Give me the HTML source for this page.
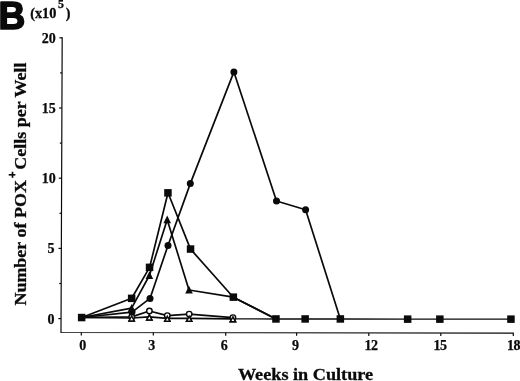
<!DOCTYPE html>
<html><head><meta charset="utf-8"><title>B</title>
<style>
html,body{margin:0;padding:0;background:#fff;}
body{width:520px;height:381px;overflow:hidden;position:relative;}
svg{position:absolute;left:0;top:0;display:block;}
text{font-kerning:normal;}
</style></head><body>
<svg width="520" height="381" viewBox="0 0 520 381">
<rect width="520" height="381" fill="#fff"/>
<text transform="translate(-1.6,29.05) scale(0.94,1)" font-family="'Liberation Sans', sans-serif" font-weight="bold" font-size="39.4" fill="#0a0a0a" stroke="#0a0a0a" stroke-width="1.7" stroke-linejoin="round">B</text>
<g font-family="'Liberation Serif', serif" font-weight="bold" fill="#0a0a0a" stroke="#0a0a0a" stroke-width="0.3">
<text x="30.2" y="18" font-size="14.3">(x10</text>
<text x="58.1" y="8.3" font-size="11.8">5</text>
<text x="65.8" y="17.8" font-size="14">)</text>
<text transform="translate(305.5,379.8) scale(1.012,0.95)" font-size="18" text-anchor="middle" id="xl">Weeks in Culture</text>
<text transform="translate(26.4,305.6) rotate(-90) scale(1,0.955)" font-size="18" id="yl">Number of POX</text>
<text transform="translate(15.5,178.1) rotate(-90)" font-size="11.5" stroke="#0a0a0a" stroke-width="0.8">+</text>
<text transform="translate(26.4,169.7) rotate(-90) scale(1,0.955)" font-size="18">Cells per Well</text>
</g>
<g stroke="#0a0a0a" stroke-width="1.2" fill="none" stroke-linecap="butt">
<path d="M62.2,37.3 L61,332.5 L513.8,333.1" stroke-linejoin="miter"/>
<path d="M58.3,318.6 H61.1"/>
<path d="M59.2,283.5 H61.2"/>
<path d="M58.5,248.4 H61.3"/>
<path d="M59.5,213.3 H61.5"/>
<path d="M58.8,178.2 H61.6"/>
<path d="M59.8,143.1 H61.8"/>
<path d="M59.1,108.0 H61.9"/>
<path d="M60.1,72.9 H62.1"/>
<path d="M59.4,37.8 H62.2"/>
<path d="M81.3,332.5 v3"/>
<path d="M153.3,332.6 v3"/>
<path d="M225.7,332.7 v3"/>
<path d="M296.6,332.8 v3"/>
<path d="M368.8,332.9 v3"/>
<path d="M440.8,333.0 v3"/>
<path d="M513.3,333.1 v3"/>
</g>
<g font-family="'Liberation Serif', serif" font-weight="bold" font-size="14" fill="#0a0a0a" stroke="#0a0a0a" stroke-width="0.25">
<text x="54.6" y="323.6" text-anchor="end">0</text>
<text x="54.6" y="253.4" text-anchor="end">5</text>
<text x="55.8" y="183.2" text-anchor="end">10</text>
<text x="55.8" y="113.0" text-anchor="end">15</text>
<text x="55.8" y="42.8" text-anchor="end">20</text>
<text x="82.8" y="349.9" text-anchor="middle">0</text>
<text x="151.8" y="349.9" text-anchor="middle">3</text>
<text x="224.2" y="349.9" text-anchor="middle">6</text>
<text x="295.5" y="349.8" text-anchor="middle">9</text>
<text x="370.9" y="350.0" text-anchor="middle" letter-spacing="-0.5">12</text>
<text x="440.1" y="350.0" text-anchor="middle" letter-spacing="-0.5">15</text>
<text x="513.4" y="349.9" text-anchor="middle" letter-spacing="-0.5">18</text>
</g>
<g fill="none" stroke="#0a0a0a" stroke-width="1.7" stroke-linejoin="round">
<polyline points="81.7,317.5 131.7,318.0 149.3,316.9 167.3,318.3 189.2,318.3 232.9,318.8"/>
<polyline points="81.7,317.5 131.7,316.9 149.4,311.0 167.3,315.6 189.2,314.1 232.9,317.6"/>
<polyline points="81.7,317.5 131.6,308.2 149.4,275.5 167.2,219.7 189.0,290.0 233.3,297.2 276.0,319.0"/>
<polyline points="81.7,317.5 132.0,312.1 150.0,298.4 168.0,245.4 190.3,183.6 233.9,71.9 276.5,201.0 305.6,209.7 340.3,319.0"/>
<polyline points="81.7,317.5 131.7,298.3 149.6,267.4 168.0,192.8 190.5,249.1 233.3,297.2 276.0,319.0"/>
</g>
<g fill="none" stroke="#0a0a0a" stroke-width="1.3"><polyline points="232.9,318.8 276.0,319.0"/><polyline points="276.0,319.0 305.2,319.0 340.3,319.0 407.6,319.1 439.9,319.1 511.0,319.1"/></g>
<g stroke="#0a0a0a" stroke-width="1.45" stroke-linejoin="miter">
<polygon points="131.7,316.0 129.0,321.0 134.3,321.0" fill="#fff"/>
<polygon points="149.3,314.9 146.7,319.9 152.0,319.9" fill="#fff"/>
<polygon points="167.3,316.3 164.7,321.3 170.0,321.3" fill="#fff"/>
<polygon points="189.2,316.3 186.5,321.3 191.8,321.3" fill="#fff"/>
<polygon points="232.9,316.8 230.2,321.8 235.6,321.8" fill="#fff"/>
<circle cx="131.7" cy="316.9" r="2.75" fill="#fff"/>
<circle cx="149.4" cy="311.0" r="2.75" fill="#fff"/>
<circle cx="167.3" cy="315.6" r="2.75" fill="#fff"/>
<circle cx="189.2" cy="314.1" r="2.75" fill="#fff"/>
<circle cx="232.9" cy="317.6" r="2.75" fill="#fff"/>
<polygon points="131.7,316.0 129.0,321.0 134.3,321.0" fill="#fff"/>
<polygon points="149.3,314.9 146.7,319.9 152.0,319.9" fill="#fff"/>
<polygon points="167.3,316.3 164.7,321.3 170.0,321.3" fill="#fff"/>
<polygon points="189.2,316.3 186.5,321.3 191.8,321.3" fill="#fff"/>
<polygon points="232.9,316.8 230.2,321.8 235.6,321.8" fill="#fff"/>
</g><g fill="#0a0a0a" stroke="none">
<polygon points="131.6,303.9 127.8,311.7 135.4,311.7" fill="#0a0a0a"/>
<polygon points="149.4,271.2 145.6,279.0 153.2,279.0" fill="#0a0a0a"/>
<polygon points="167.2,215.4 163.4,223.2 171.0,223.2" fill="#0a0a0a"/>
<polygon points="189.0,285.7 185.2,293.5 192.8,293.5" fill="#0a0a0a"/>
<circle cx="132.0" cy="312.1" r="3.5"/>
<circle cx="150.0" cy="298.4" r="3.5"/>
<circle cx="168.0" cy="245.4" r="3.5"/>
<circle cx="190.3" cy="183.6" r="3.5"/>
<circle cx="233.9" cy="71.9" r="3.5"/>
<circle cx="276.5" cy="201.0" r="3.5"/>
<circle cx="305.6" cy="209.7" r="3.5"/>
<rect x="77.9" y="313.8" width="7.5" height="7.5"/>
<rect x="127.9" y="294.6" width="7.5" height="7.5"/>
<rect x="145.8" y="263.6" width="7.5" height="7.5"/>
<rect x="164.2" y="189.1" width="7.5" height="7.5"/>
<rect x="186.8" y="245.3" width="7.5" height="7.5"/>
<rect x="229.6" y="293.4" width="7.5" height="7.5"/>
<rect x="272.2" y="315.2" width="7.5" height="7.5"/>
<rect x="301.4" y="315.2" width="7.5" height="7.5"/>
<rect x="336.6" y="315.2" width="7.5" height="7.5"/>
<rect x="403.9" y="315.4" width="7.5" height="7.5"/>
<rect x="436.1" y="315.4" width="7.5" height="7.5"/>
<rect x="507.2" y="315.4" width="7.5" height="7.5"/>
</g>
</svg>
</body></html>
